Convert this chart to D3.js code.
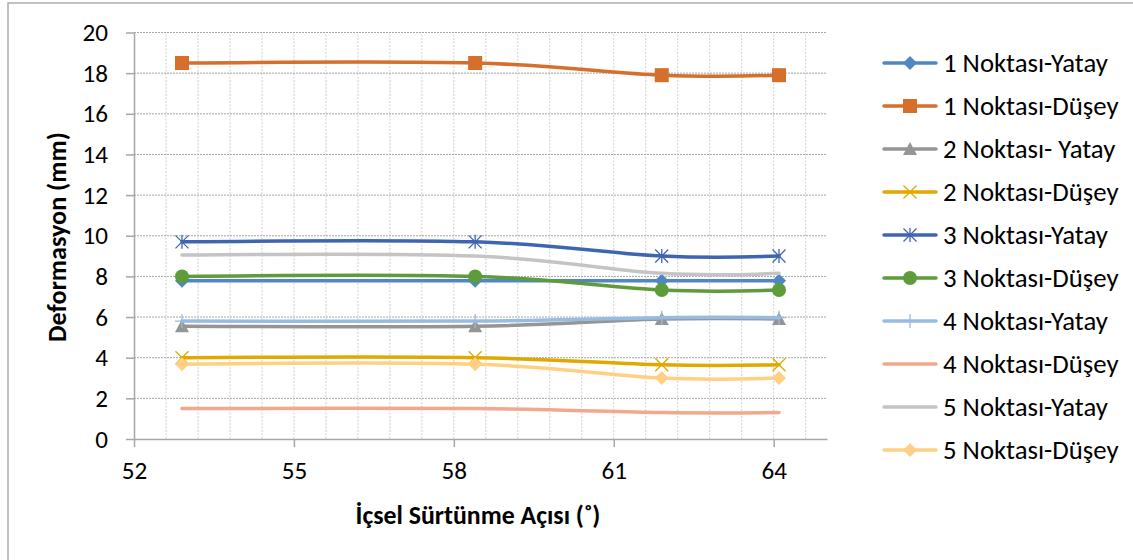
<!DOCTYPE html>
<html>
<head>
<meta charset="utf-8">
<script src="https://cdn.jsdelivr.net/npm/d3@7"></script>
<style>
  html, body { margin: 0; padding: 0; background: #fff; }
  svg { display: block; font-family: Carlito, Lato, "Liberation Sans", sans-serif; }
</style>
</head>
<body>
<svg id="chart" width="1133" height="560"></svg>
<script>
// Internal friction angle (x) and deformation (mm) per measuring point
const angles = [52.9, 58.4, 61.9, 64.1];

const seriesNames = [
  "1 Noktası-Yatay", "1 Noktası-Düşey", "2 Noktası- Yatay", "2 Noktası-Düşey",
  "3 Noktası-Yatay", "3 Noktası-Düşey", "4 Noktası-Yatay", "4 Noktası-Düşey",
  "5 Noktası-Yatay", "5 Noktası-Düşey"
];

const p1Yatay = [7.78, 7.78, 7.78, 7.78];
const p1Dusey = [18.5, 18.5, 17.9, 17.9];
const p2Yatay = [5.55, 5.55, 5.9, 5.9];
const p2Dusey = [4.0, 4.0, 3.65, 3.65];
const p3Yatay = [9.7, 9.7, 9.0, 9.0];
const p3Dusey = [8.0, 8.0, 7.33, 7.33];
const p4Yatay = [5.8, 5.8, 5.97, 5.97];
const p4Dusey = [1.5, 1.5, 1.3, 1.3];
const p5Yatay = [9.05, 9.0, 8.15, 8.15];
const p5Dusey = [3.68, 3.68, 3.0, 3.0];

const seriesValues = [p1Yatay, p1Dusey, p2Yatay, p2Dusey, p3Yatay, p3Dusey, p4Yatay, p4Dusey, p5Yatay, p5Dusey];
const seriesColors = ["#4F86C3", "#D56F2B", "#959595", "#E1A900", "#3F65B0",
                      "#5E9B3A", "#98BBE2", "#F2A88E", "#C4C4C4", "#FFD084"];
const seriesMarkers = ["diamond", "square", "triangle", "x", "star", "circle", "plus", "none", "none", "diamond"];

const xTicks = [52, 55, 58, 61, 64];
const yTicks = [0, 2, 4, 6, 8, 10, 12, 14, 16, 18, 20];
const xMinorStep = 0.6;

const FONT = "Carlito, Lato, sans-serif";
const svg = d3.select("#chart");

// font size that makes a sample string reach a given width
function fitSize(sample, width, weight) {
  const t = svg.append("text").attr("font-family", FONT).attr("font-size", 20)
    .attr("font-weight", weight || "normal").text(sample);
  const w = t.node().getComputedTextLength();
  t.remove();
  return 20 * width / w;
}
const tickSizeY = fitSize("20", 25.5);
const tickSizeX = fitSize("52", 25.5);
const legendSize = fitSize("1 Noktası-Yatay", 165);
const xTitleSize = fitSize("İçsel Sürtünme Açısı (˚)", 245, "bold");
const yTitleSize = fitSize("Deformasyon (mm)", 210, "bold");

// chart frame
svg.append("path")
  .attr("d", "M8,560 L8,3 L1133,3")
  .attr("fill", "none").attr("stroke", "#ADADAD").attr("stroke-width", 1.5);

const x = d3.scaleLinear().domain([52, 65]).range([134, 827]);
const y = d3.scaleLinear().domain([0, 20]).range([439, 32.5]);

// vertical minor gridlines
const minorXs = d3.range(52 + xMinorStep, 65.001, xMinorStep);
svg.append("g").selectAll("line").data(minorXs).join("line")
  .attr("x1", d => x(d)).attr("x2", d => x(d))
  .attr("y1", y(0)).attr("y2", y(20))
  .attr("stroke", "#CFCFCF").attr("stroke-width", 1).attr("stroke-dasharray", "2,1.5");

// horizontal major gridlines
svg.append("g").selectAll("line").data(yTicks.filter(v => v > 0)).join("line")
  .attr("x1", x(52)).attr("x2", x(65))
  .attr("y1", d => y(d)).attr("y2", d => y(d))
  .attr("stroke", "#A6A6A6").attr("stroke-width", 1).attr("stroke-dasharray", "2,1");

// y axis
const yAxis = svg.append("g").attr("transform", `translate(${x(52)},0)`)
  .call(d3.axisLeft(y).tickValues(yTicks).tickSize(8).tickPadding(18).tickSizeOuter(0));
yAxis.select(".domain").attr("stroke", "#A6A6A6").attr("stroke-width", 1.5);
yAxis.selectAll(".tick line").attr("stroke", "#A6A6A6").attr("stroke-width", 1.5);
yAxis.selectAll(".tick text").attr("font-size", tickSizeY).attr("fill", "#000")
  .attr("font-family", FONT);

// x axis
const xAxis = svg.append("g").attr("transform", `translate(0,${y(0)})`)
  .call(d3.axisBottom(x).tickValues(xTicks).tickSize(8).tickPadding(14).tickSizeOuter(0));
xAxis.select(".domain").attr("stroke", "#A6A6A6").attr("stroke-width", 1.5);
xAxis.selectAll(".tick line").attr("stroke", "#A6A6A6").attr("stroke-width", 1.5);
xAxis.selectAll(".tick text").attr("font-size", tickSizeX).attr("fill", "#000")
  .attr("font-family", FONT);

// axis titles
svg.append("text")
  .attr("transform", `translate(66,237) rotate(-90)`)
  .attr("text-anchor", "middle")
  .attr("font-size", yTitleSize).attr("font-weight", "bold").attr("fill", "#000")
  .text("Deformasyon (mm)");
svg.append("text")
  .attr("x", 478).attr("y", 524)
  .attr("text-anchor", "middle")
  .attr("font-size", xTitleSize).attr("font-weight", "bold").attr("fill", "#000")
  .text("İçsel Sürtünme Açısı (˚)");

// marker drawing
function drawMarker(g, type, color, cx, cy) {
  const s = 7;
  if (type === "diamond") {
    g.append("path").attr("d", `M${cx},${cy - s} L${cx + s},${cy} L${cx},${cy + s} L${cx - s},${cy} Z`)
      .attr("fill", color);
  } else if (type === "square") {
    g.append("rect").attr("x", cx - 7).attr("y", cy - 7).attr("width", 14).attr("height", 14)
      .attr("fill", color);
  } else if (type === "triangle") {
    g.append("path").attr("d", `M${cx},${cy - 7} L${cx + 7},${cy + 6} L${cx - 7},${cy + 6} Z`)
      .attr("fill", color);
  } else if (type === "circle") {
    g.append("circle").attr("cx", cx).attr("cy", cy).attr("r", 7).attr("fill", color);
  } else if (type === "x") {
    g.append("path").attr("d", `M${cx - 6.5},${cy - 6.5} L${cx + 6.5},${cy + 6.5} M${cx - 6.5},${cy + 6.5} L${cx + 6.5},${cy - 6.5}`)
      .attr("stroke", color).attr("stroke-width", 1.3).attr("fill", "none");
  } else if (type === "star") {
    g.append("path").attr("d", `M${cx - 6.5},${cy - 6.5} L${cx + 6.5},${cy + 6.5} M${cx - 6.5},${cy + 6.5} L${cx + 6.5},${cy - 6.5} M${cx},${cy - 7} L${cx},${cy + 7}`)
      .attr("stroke", color).attr("stroke-width", 1.3).attr("fill", "none");
  } else if (type === "plus") {
    g.append("path").attr("d", `M${cx - 7},${cy} L${cx + 7},${cy} M${cx},${cy - 7} L${cx},${cy + 7}`)
      .attr("stroke", color).attr("stroke-width", 1.3).attr("fill", "none");
  }
}

// series (smoothed lines)
const line = d3.line()
  .x(d => x(d[0])).y(d => y(d[1]))
  .curve(d3.curveCardinal.tension(0));

seriesNames.forEach((name, i) => {
  const pts = angles.map((a, j) => [a, seriesValues[i][j]]);
  const g = svg.append("g");
  g.append("path").datum(pts).attr("d", line)
    .attr("fill", "none").attr("stroke", seriesColors[i])
    .attr("stroke-width", 3.5).attr("stroke-linecap", "round");
  pts.forEach(p => drawMarker(g, seriesMarkers[i], seriesColors[i], x(p[0]), y(p[1])));
});

// legend
const legend = svg.append("g");
seriesNames.forEach((name, i) => {
  const ly = 63 + i * 43;
  const g = legend.append("g");
  g.append("line").attr("x1", 884).attr("x2", 936).attr("y1", ly).attr("y2", ly)
    .attr("stroke", seriesColors[i]).attr("stroke-width", 3.5).attr("stroke-linecap", "round");
  drawMarker(g, seriesMarkers[i], seriesColors[i], 910, ly);
  g.append("text").attr("x", 943).attr("y", ly).attr("dy", "0.35em")
    .attr("font-family", FONT).attr("font-size", legendSize).attr("fill", "#000").text(name);
});
</script>
</body>
</html>
